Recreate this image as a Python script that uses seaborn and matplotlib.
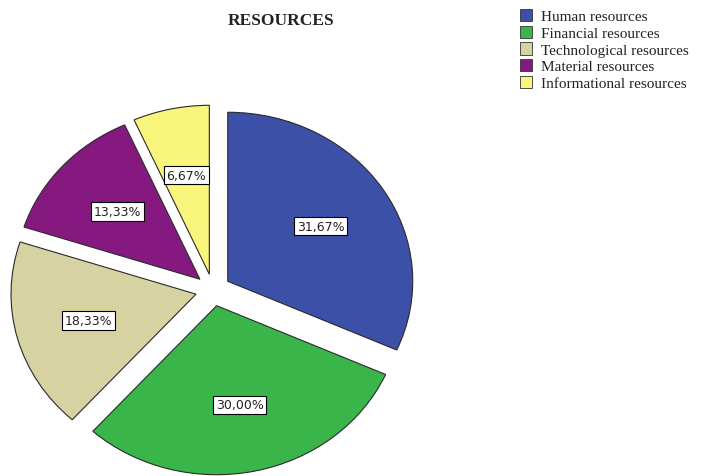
import matplotlib
matplotlib.use("Agg")
import matplotlib.pyplot as plt
import seaborn as sns
from matplotlib.patches import Patch

categories = ["Human resources", "Financial resources", "Technological resources",
              "Material resources", "Informational resources"]
values = [31.67, 30.00, 18.33, 13.33, 6.67]
colors = ["#3c50a8", "#3ab54a", "#d6d2a2", "#86197f", "#f8f47c"]
title = "RESOURCES"

sns.set_theme(style="white")
plt.rcParams['font.family'] = ['DejaVu Sans']

fig = plt.figure(figsize=(7.12, 4.77), dpi=100)
W, H = 712, 477
cx, cy = 213, 291          # pie centre, px from top-left
sx, sy = 185, 169          # px per data unit
xl, yl = 1.1, 1.15
ax = fig.add_axes([(cx - xl * sx) / W, (H - cy - yl * sy) / H, 2 * xl * sx / W, 2 * yl * sy / H])

wedges, texts, autotexts = ax.pie(
    values, colors=colors, startangle=90, counterclock=False,
    explode=[0.095] * len(values), pctdistance=0.6,
    autopct=lambda p: f"{p:.2f}%".replace('.', ','),
    wedgeprops=dict(edgecolor="#2a2a2a", linewidth=0.8),
    textprops=dict(fontsize=9, color="#222222"))
for t in autotexts:
    t.set_bbox(dict(boxstyle="square,pad=0.22", facecolor="white", edgecolor="black", linewidth=0.8))
ax.set_aspect('auto')
ax.set_xlim(-xl, xl)
ax.set_ylim(-yl, yl)
ax.axis('off')

fig.text(281 / W, 1 - 21 / H, title, ha='center', va='center', fontsize=12.5,
         fontweight='bold', family=['Liberation Serif'], color="#222222")

handles = [Patch(facecolor=c, edgecolor="#333333", linewidth=0.6) for c in colors]
fig.legend(handles, categories, loc='upper left', bbox_to_anchor=(520 / W, 1 - 10 / H),
           frameon=False, prop=dict(family='Liberation Serif', size=11),
           labelspacing=0.15, handlelength=0.8, handleheight=0.85, handletextpad=0.55,
           borderpad=0, borderaxespad=0, labelcolor="#222222")

fig.savefig("out.png", dpi=100)
